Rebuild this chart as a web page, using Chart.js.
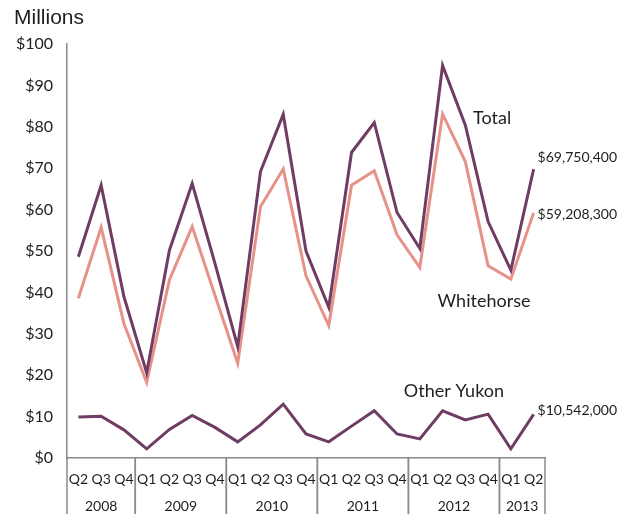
<!DOCTYPE html>
<html>
<head>
<meta charset="utf-8">
<script src="https://cdn.jsdelivr.net/npm/chart.js@4.4.1/dist/chart.umd.min.js"></script>
<style>
  body { margin: 0; background: #fff; }
  #wrap { width: 631px; height: 514px; }
</style>
</head>
<body>
<div id="wrap"><canvas id="chart" width="631" height="514"></canvas></div>
<script>
// quarters from 2008 Q2 to 2013 Q2, values in millions of dollars
const quarters = ['Q2','Q3','Q4','Q1','Q2','Q3','Q4','Q1','Q2','Q3','Q4','Q1','Q2','Q3','Q4','Q1','Q2','Q3','Q4','Q1','Q2'];
const years = ['2008','2008','2008','2009','2009','2009','2009','2010','2010','2010','2010',
               '2011','2011','2011','2011','2012','2012','2012','2012','2013','2013'];
const total = [48.6, 65.9, 39.0, 20.6, 50.2, 66.3, 47.0, 26.9, 69.2, 83.0, 50.0,
               36.4, 73.8, 81.0, 59.3, 50.6, 94.8, 80.4, 57.1, 45.4, 69.7504];
const whitehorse = [38.6, 55.7, 32.5, 18.3, 43.0, 55.9, 39.3, 22.9, 60.7, 69.8, 44.0,
                    32.0, 65.9, 69.4, 53.9, 46.0, 83.1, 71.6, 46.4, 43.2, 59.2083];
const otherYukon = [9.9, 10.1, 6.8, 2.2, 6.9, 10.3, 7.4, 3.9, 8.0, 13.0, 5.8,
                    3.9, 7.7, 11.4, 5.8, 4.6, 11.4, 9.2, 10.6, 2.2, 10.542];
const yTicks = [0, 10, 20, 30, 40, 50, 60, 70, 80, 90, 100];

const purple = '#6f3d63';
const salmon = '#e6918a';
const axisGrey = '#8a8a8a';
const textColor = '#1e1e1e';
const font = 'Lato, sans-serif';

function money(v) {
  return '$' + Math.round(v * 1e6).toLocaleString('en-US');
}

const extras = {
  id: 'extras',
  afterDraw(chart) {
    const { ctx, chartArea, scales } = chart;
    const x = scales.x, y = scales.y;
    const half = (x.getPixelForValue(1) - x.getPixelForValue(0)) / 2;
    ctx.save();

    // unit title
    ctx.fillStyle = textColor;
    ctx.font = '21px "Liberation Sans", Arial, sans-serif';
    ctx.textAlign = 'left';
    ctx.textBaseline = 'middle';
    ctx.fillText('Millions', 14, 18);

    // year groups: separators and labels
    ctx.strokeStyle = axisGrey;
    ctx.lineWidth = 1.5;
    ctx.font = '14px ' + font;
    ctx.textAlign = 'center';
    let start = 0;
    for (let i = 1; i <= years.length; i++) {
      if (i === years.length || years[i] !== years[start]) {
        const left = x.getPixelForValue(start) - half;
        const right = x.getPixelForValue(i - 1) + half;
        ctx.beginPath();
        ctx.moveTo(left, chartArea.bottom);
        ctx.lineTo(left, chart.height);
        ctx.moveTo(right, chartArea.bottom);
        ctx.lineTo(right, chart.height);
        ctx.stroke();
        ctx.fillText(years[start], (left + right) / 2, 506);
        start = i;
      }
    }

    // series names
    ctx.font = '18px ' + font;
    ctx.textAlign = 'left';
    ctx.fillText('Total', x.getPixelForValue(17.34), y.getPixelForValue(82.1));
    ctx.textAlign = 'center';
    ctx.fillText('Whitehorse', x.getPixelForValue(17.82), y.getPixelForValue(37.9));
    ctx.fillText('Other Yukon', x.getPixelForValue(16.5), y.getPixelForValue(16.2));

    // end values
    const last = quarters.length - 1;
    const lx = x.getPixelForValue(last) + 4;
    ctx.font = '14px ' + font;
    ctx.textAlign = 'left';
    ctx.fillText(money(total[last]), lx, y.getPixelForValue(total[last]) - 12);
    ctx.fillText(money(whitehorse[last]), lx, y.getPixelForValue(whitehorse[last]) + 2);
    ctx.fillText(money(otherYukon[last]), lx, y.getPixelForValue(otherYukon[last]) - 4);
    ctx.restore();
  }
};

new Chart(document.getElementById('chart'), {
  type: 'line',
  data: {
    labels: quarters,
    datasets: [
      { label: 'Total', data: total, borderColor: purple, borderWidth: 3 },
      { label: 'Whitehorse', data: whitehorse, borderColor: salmon, borderWidth: 3 },
      { label: 'Other Yukon', data: otherYukon, borderColor: purple, borderWidth: 3 }
    ]
  },
  options: {
    responsive: false,
    animation: false,
    layout: { padding: { top: 44, right: 86, left: 0, bottom: 0 } },
    elements: { point: { radius: 0 }, line: { tension: 0, borderJoinStyle: 'miter' } },
    plugins: { legend: { display: false }, tooltip: { enabled: false } },
    scales: {
      x: {
        offset: true,
        grid: { display: false },
        border: { color: axisGrey, width: 1.5 },
        ticks: { color: textColor, font: { family: font, size: 14 }, padding: 5, maxRotation: 0, autoSkip: false },
        afterFit: s => { s.height = 56; }
      },
      y: {
        min: 0,
        max: 100,
        grid: { display: false, drawTicks: false },
        border: { color: axisGrey, width: 1.5 },
        afterBuildTicks: s => { s.ticks = yTicks.map(v => ({ value: v })); },
        ticks: { color: textColor, font: { family: font, size: 16 }, padding: 14, callback: v => '$' + v },
        afterFit: s => { s.width = 67; }
      }
    }
  },
  plugins: [extras]
});
</script>
</body>
</html>
